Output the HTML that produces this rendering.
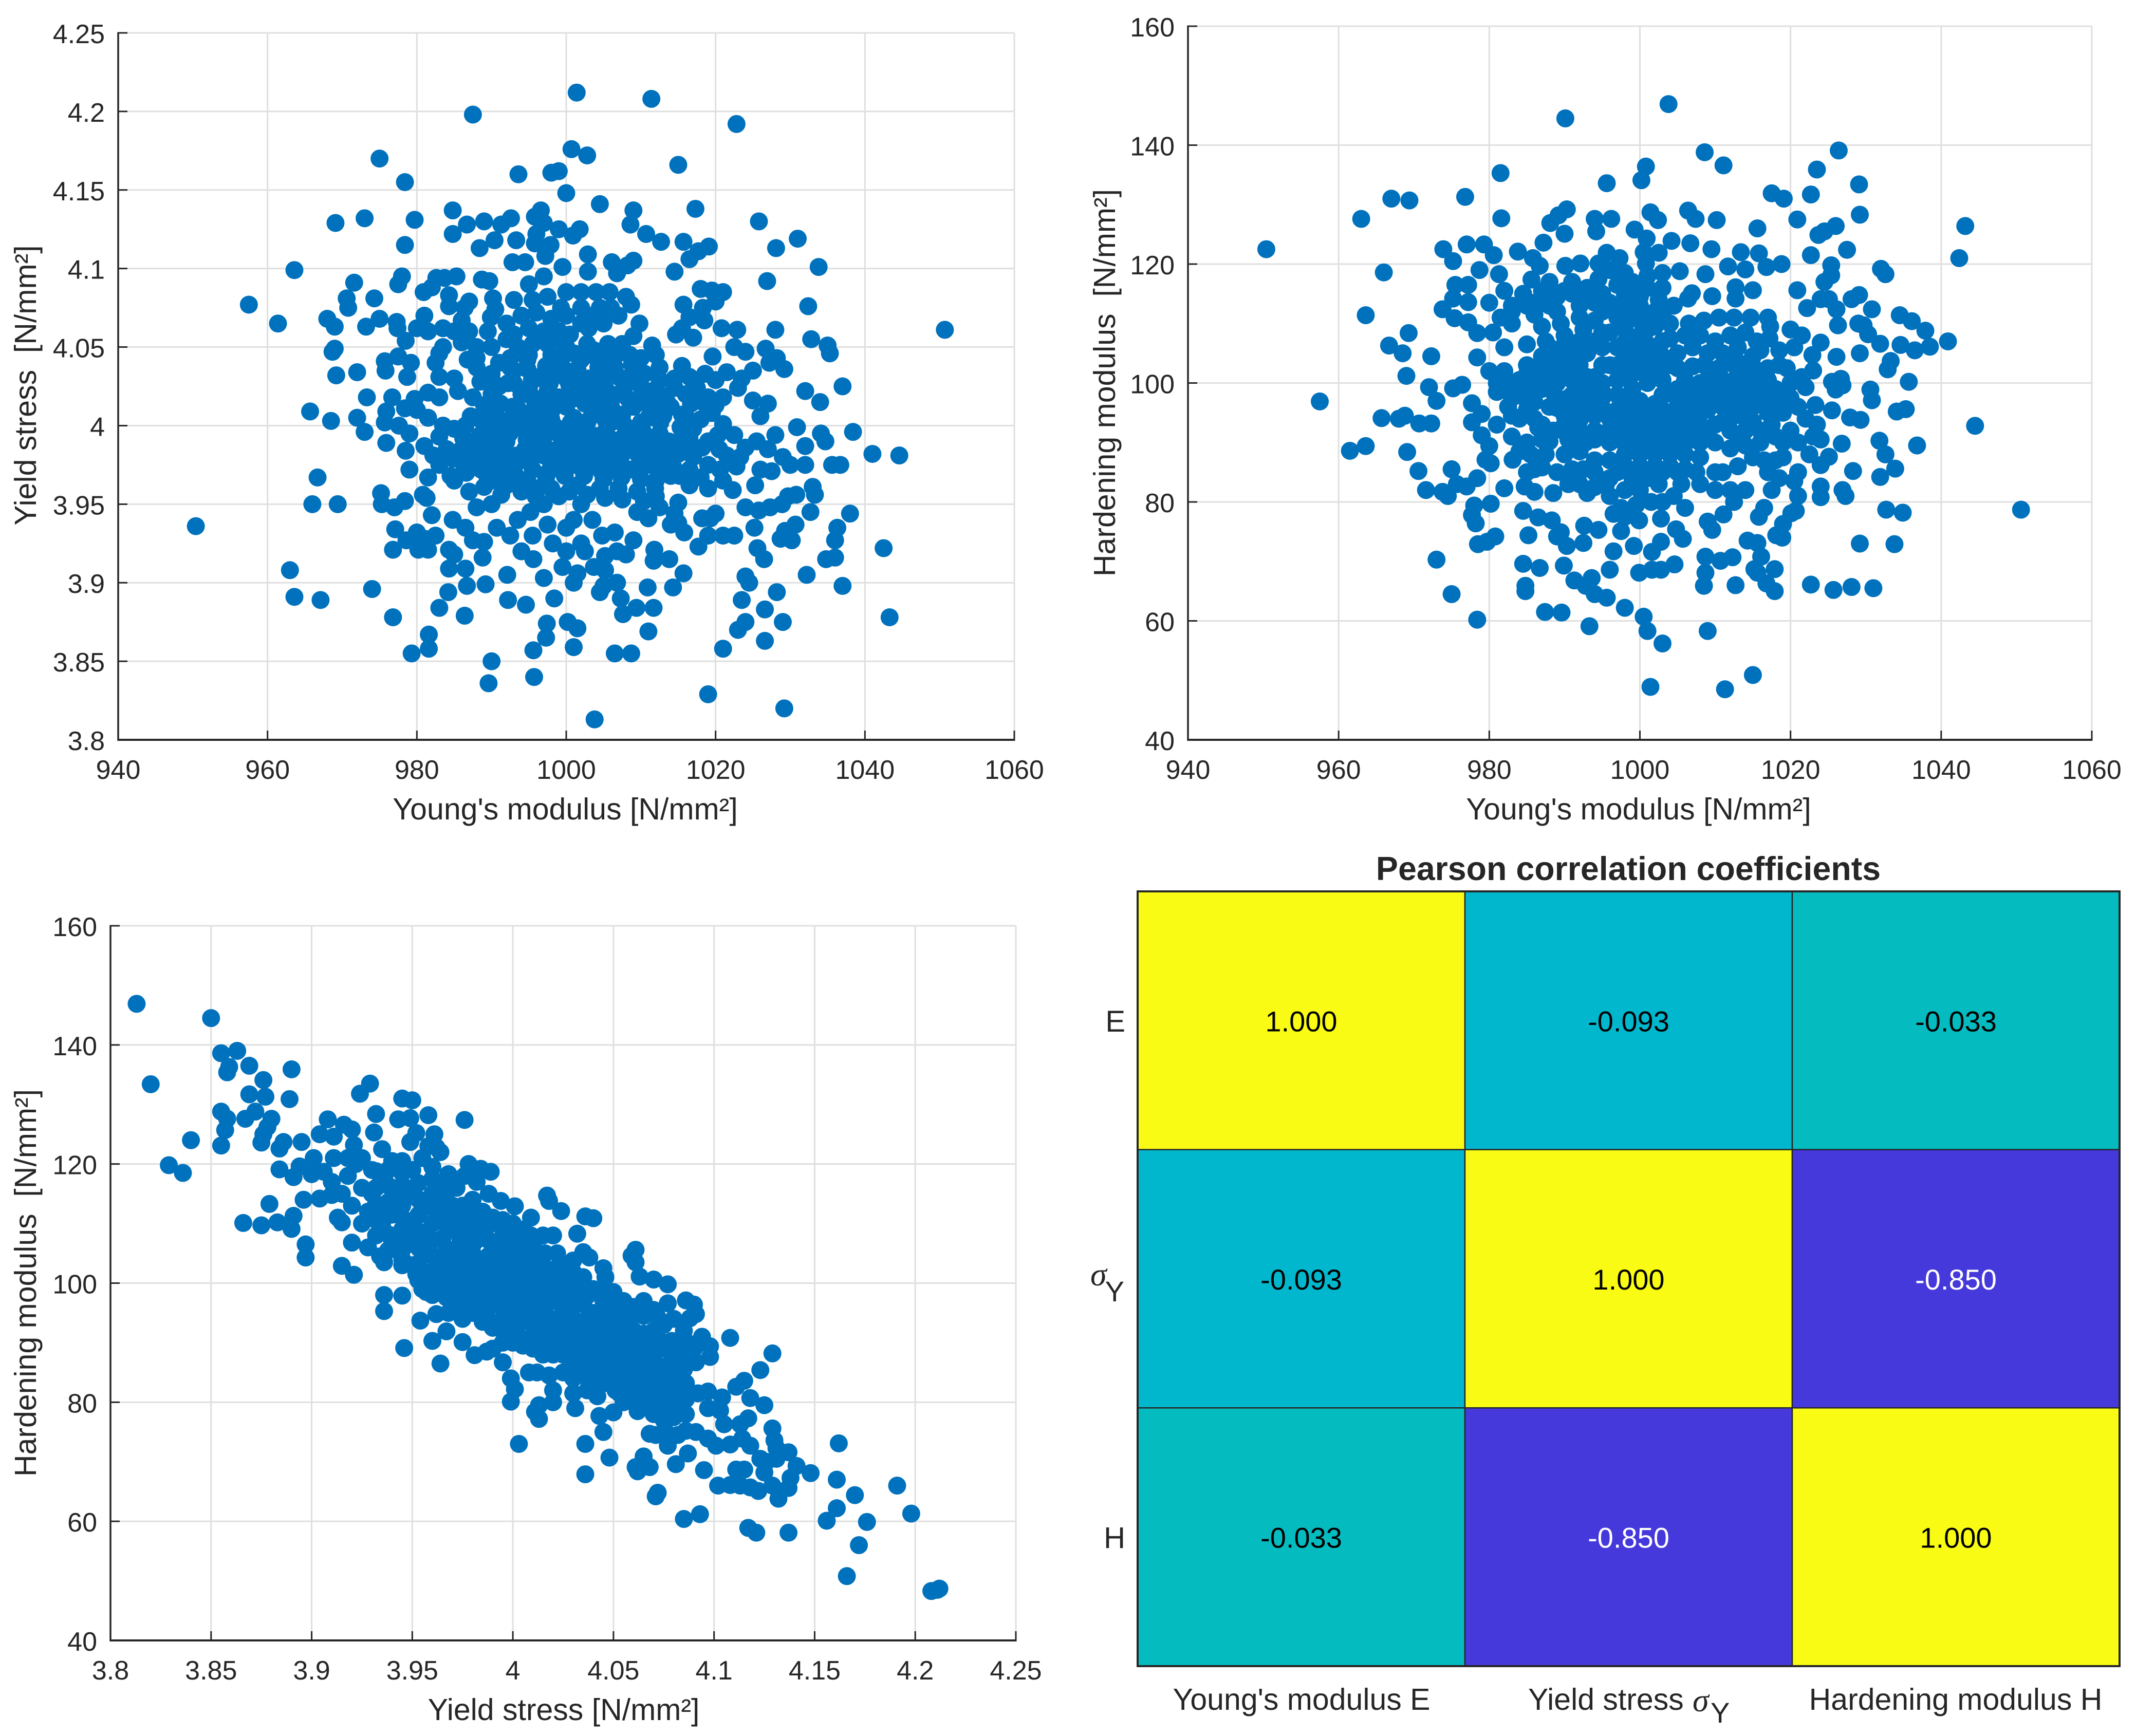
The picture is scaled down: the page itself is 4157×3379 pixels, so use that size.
<!DOCTYPE html>
<html>
<head>
<meta charset="utf-8">
<title>Material parameter scatter plots and correlation matrix</title>
<style>
html,body{margin:0;padding:0;background:#fff;}
svg{display:block;}
text{font-family:"Liberation Sans",Arial,sans-serif;fill:#262626;}
</style>
</head>
<body>
<svg id="figure" xmlns="http://www.w3.org/2000/svg" width="4157" height="3379" viewBox="0 0 4157 3379">
<rect x="0" y="0" width="4157" height="3379" fill="#ffffff"/>
<g id="panel-a"></g>
<g id="panel-b"></g>
<g id="panel-c"></g>
<g id="panel-d"></g>
<text x="1100" y="1595" font-size="59" text-anchor="middle">Young's modulus [N/mm²]</text>
<text transform="translate(70,750) rotate(-90)" font-size="59" text-anchor="middle" xml:space="preserve">Yield stress  [N/mm²]</text>
<text x="3189" y="1595" font-size="59" text-anchor="middle">Young's modulus [N/mm²]</text>
<text transform="translate(2170,745) rotate(-90)" font-size="59" text-anchor="middle" xml:space="preserve">Hardening modulus  [N/mm²]</text>
<text x="1097" y="3348" font-size="59" text-anchor="middle">Yield stress [N/mm²]</text>
<text transform="translate(70,2497) rotate(-90)" font-size="59" text-anchor="middle" xml:space="preserve">Hardening modulus  [N/mm²]</text>
<text x="3169" y="1713" font-size="64.5" font-weight="bold" text-anchor="middle">Pearson correlation coefficients</text>
<text x="2190" y="2008" font-size="58" text-anchor="end">E</text>
<text x="2122" y="2502" font-size="64"><tspan font-family="Liberation Serif" font-style="italic">σ</tspan></text>
<text x="2188" y="2533" font-size="56" text-anchor="end">Y</text>
<text x="2190" y="3013" font-size="58" text-anchor="end">H</text>
<text x="2533" y="3328" font-size="59" text-anchor="middle">Young's modulus E</text>
<text x="2974" y="3328" font-size="59">Yield stress</text>
<text x="3294" y="3331" font-size="64"><tspan font-family="Liberation Serif" font-style="italic">σ</tspan></text>
<text x="3329" y="3353" font-size="56">Y</text>
<text x="3806" y="3328" font-size="59" text-anchor="middle">Hardening modulus H</text>
</svg>
<script>
const youngsTicks=[940,960,980,1000,1020,1040,1060];
const yieldTicks=[3.8,3.85,3.9,3.95,4,4.05,4.1,4.15,4.2,4.25];
const hardeningTicks=[40,60,80,100,120,140,160];

const yieldVsYoungs=[
[950.4,3.936],[957.5,4.077],[961.4,4.065],[963.6,4.099],[963,3.908],[963.6,3.891],[967.1,3.889],[966,3.95],[965.7,4.009],[966.7,3.967],[969.4,3.95],[968.5,4.003],[969.1,4.129],[973,4.132],[978.4,4.155],[975,4.17],[987.5,4.198],[1001.4,4.212],[1011.4,4.208],[1022.8,4.192],[1015,4.166],[1002.8,4.172],[1000.7,4.176],[999,4.162],[998,4.161],[993.6,4.16],[1000,4.148],[1004.5,4.141],[1017.3,4.138],[1009,4.137],[984.8,4.137],[979.7,4.131],[986.7,4.128],[989,4.13],[992.6,4.132],[991.3,4.128],[996.6,4.137],[995.8,4.133],[997,4.129],[999,4.125],[1001.8,4.125],[1000.9,4.121],[996,4.122],[984.8,4.122],[1008.6,4.128],[1010.7,4.122],[1012.7,4.117],[1025.8,4.13],[1031,4.119],[1028.1,4.113],[1033.8,4.101],[1026.9,4.092],[1032.4,4.076],[1015.7,4.117],[1019.1,4.114],[1017.7,4.111],[1016.5,4.106],[1014.5,4.098],[1009,4.105],[1006.1,4.104],[1006.8,4.097],[1008.2,4.102],[1002.9,4.109],[1002.9,4.098],[999.5,4.101],[988.4,4.113],[990.4,4.118],[993.3,4.118],[978.4,4.115],[992.8,4.104],[994.5,4.104],[995.8,4.116],[997.9,4.115],[997.2,4.108],[971.6,4.091],[970.6,4.081],[970.8,4.075],[974.3,4.081],[978,4.095],[977.5,4.09],[985.3,4.095],[982.6,4.094],[983.7,4.094],[980.9,4.085],[982,4.088],[984.3,4.083],[984.3,4.076],[987,4.079],[986.4,4.075],[988.7,4.093],[989.7,4.092],[990.2,4.081],[989.9,4.069],
[968,4.068],[969,4.063],[968.7,4.047],[969,4.049],[969.2,4.032],[972,4.034],[973.2,4.063],[975,4.068],[977.3,4.066],[977.4,4.062],[978.5,4.054],[977.5,4.044],[979.2,4.04],[978.7,4.031],[975.7,4.041],[975.8,4.035],[973.3,4.018],[976.7,4.018],[972,4.005],[973,3.996],[975.7,4.002],[975.9,4.009],[975.9,3.989],[977.6,4],[978.5,3.984],[978.4,4.011],[979.7,4.017],[979,3.972],[981.5,3.967],[975.2,3.957],[975.3,3.95],[977,3.948],[978.4,3.952],[980.8,3.956],[981.3,3.954],[982,3.943],[977.1,3.934],[978.6,3.927],[980,3.932],[980.2,3.921],[981,3.928],[981.5,3.921],[982.5,3.93],[976.8,3.921],[984.3,3.921],[985,3.918],[984.3,3.909],[986.5,3.909],[988.8,3.916],[987.5,3.927],[989,3.926],[986.7,3.898],[984.2,3.894],[983,3.884],[986.4,3.879],[989.2,3.899],[992.1,3.905],[992.2,3.889],[994.6,3.886],[998.4,3.89],[981.6,3.867],[981.6,3.858],[979.3,3.855],[976.8,3.878],[974,3.896],[990,3.85],[989.6,3.836],[995.7,3.84],[995.6,3.857],[997.3,3.865],[997.4,3.874],[1000.2,3.875],[1001.5,3.871],[1001,3.859],[1003.8,3.813],[1006.5,3.855],[1008.7,3.855],[1011,3.869],[1007.6,3.88],[1009.4,3.884],[1011.7,3.884],[1007.3,3.89],[1010.9,3.897],[1014.3,3.897],[1015.7,3.906],[1019,3.829],[1029.2,3.82],[1021,3.858],[1026.6,3.863],[1029,3.875],[1026.6,3.883],[1023,3.87],[1024,3.875],[1023.5,3.889],[1028.2,3.894],[1024,3.904],[1024.5,3.9],[1032.2,3.905],[1026.5,3.915],[1025.6,3.922],[1037,3.898],[1043.3,3.878],[1042.5,3.922],[1036,3.916],[1034.8,3.915],[1036,3.927],[1036.3,3.935],[1038,3.944],[1032.7,3.945],[1030.7,3.937],[1030.2,3.927],[1028.7,3.928],[1029.3,3.933],[1028.9,3.95],[1029.7,3.955],[1030.8,3.956],[1033,3.961],[1033.3,3.956],[1025.2,3.935],[1027.3,3.948],[1025.8,3.946],[1024,3.948],[1020,3.944],[1019.3,3.941],[1018.2,3.941],[1021,3.93],[1022.5,3.93],[1019,3.93],[1017.7,3.923],[1015.8,3.932],[1015,3.938],[1014,3.937],
[1035,4.051],[1035.3,4.046],[1032.8,4.055],[1037,4.025],[1034,4.015],[1032,4.022],[1038.4,3.996],[1041,3.982],[1044.6,3.981],[1030.9,3.999],[1034.1,3.995],[1034.7,3.99],[1032,3.987],[1032,3.975],[1035.6,3.975],[1036.7,3.975],[1029.2,4.036],[1027.2,4.04],[1028.2,4.043],[1026.7,4.049],[1024,4.047],[1023.5,4.03],[1025,4.035],[1025,4.016],[1027,4.014],[1026,4.006],[1028,3.994],[1025.5,3.99],[1027,3.985],[1029,3.98],[1030,3.975],[1027.5,3.971],[1026,3.972],[1025.3,3.962],[1028,4.061],[1022.9,4.061],[1020.8,4.062],[1018.5,4.067],[1022.5,4.05],[1019.6,4.044],[1017,4.056],[1050.7,4.061],[1018,4.087],[1019.5,4.086],[1021,4.085],[1020,4.079],[1018.3,4.075],[1016.5,4.069],[1015.7,4.077],[1014.7,4.058],[1015.5,4.062],[1015.5,4.038],[1016.5,4.031],[1018.6,4.033],[1020,4.029],[1021.5,4.034],[1023,4.024],[1021,4.018],[1016.7,4.014],[1014.5,4.024],[1012.5,4.029],[1012.8,4.019],[1014,4.012],[1019.5,4.008],[1021,4.001],[1022.5,3.994],[1024,3.986],[1020.5,3.985],[1019,3.975],[1022.8,3.974],[1021,3.965],[1022.3,3.959],[1016.5,3.962],[1014,3.968],[1015,3.951],[1014.5,3.944],[1012.5,3.948],[1011,3.941],[1009,3.927],[1011.8,3.921],[1011.7,3.914],[1013.8,3.915],[1006.8,3.92],[1008,3.918],[1005.2,3.917],[1005.2,3.908],[1003.7,3.91],[1006.8,3.9],[1004.5,3.894],[1005,3.898],[1001.5,3.906],[1001,3.9],[1002.5,3.92],[1002,3.925],[1000,3.92],[998.2,3.925],[999.5,3.91],[997,3.903],[995.6,3.915],[994,3.92],[995.5,3.93],[993.5,3.94],[992.5,3.93],[990.7,3.935],[995.2,3.945],[997.5,3.937],[1000,3.935],[1001,3.94],[1003.5,3.94],[1004.8,3.93],[1006.5,3.932],[1009.5,3.945],[1012,3.955],
[985,4.06],[987,4.06],[983,4.046],[981,4.07],[980,4.062],[981.5,4.06],[983.5,4.05],[986,4.053],[988,4.05],[990,4.05],[986.8,4.042],[988,4.037],[983,4.031],[985,4.03],[981.5,4.021],[983,4.018],[980,4.01],[981.5,4.005],[979,3.995],[983,3.993],[985,3.998],[986.5,4],[988.5,4.004],[984,3.985],[986,3.985],[988,3.975],[983,3.975],[985,3.965],[987,3.958],[988,3.948],[990,3.95],[992,3.962],[994,3.958],[984.8,3.94],[986.5,3.935],[990,3.965],[991.5,3.975],[988.5,3.985],[990.5,3.985],[991,4.025],[993,4.035],[995,4.045],[997,4.06],[992,4.065],[994,4.07],[996,4.072],[998,4.068],[1000,4.07],[1002,4.065],[995,4.09],[997,4.095],[1000,4.085],[1002,4.085],[1004,4.085],[1005.8,4.085],[1004.5,4.075],[1006,4.075],[1005,4.065],[1008,4.082],[1008.7,4.077],[1009.8,4.065],[1009,4.057],[1011.5,4.051],[1010,4.043],[1007,4.046],[1005.5,4.043],[1012,4.045],[1002,4.042],[1000,4.05],[998,4.045],[993.5,4.05],[991,4.04],[996,4.03],[998,4.03],[1000,4.035],[1003,4.03],[1005,4.03],[1008,4.03],[1010,4.025],[994,4.02],[996,4.015],[999,4.018],[1002,4.02],[1005,4.017],[1007,4.02],[1009,4.012],[1011,4.005],[993,4.005],[995.5,4],[998,4.004],[1001,4.005],[1003.5,4.008],[1006,4.002],[1008.5,3.998],[992,3.99],[994.5,3.985],[997,3.988],[999.5,3.99],[1002,3.99],[1004.5,3.99],[1007,3.988],[1010,3.988],[1012.5,3.995],[1015,3.99],[1017,3.998],[993,3.975],[995.5,3.972],[998,3.975],[1001,3.975],[1003.5,3.975],[1006,3.975],[1008.5,3.972],[1011,3.975],[1013,3.98],[1017,3.98],[996,3.96],[999,3.955],[1001.5,3.962],[1004.5,3.96],[1007,3.96],[1009.5,3.958],[1012,3.965],[997,3.95],[1002,3.95],
[984.5,3.968],[986.6,3.97],[989.4,3.968],[992.3,3.967],[994.8,3.965],[997.3,3.967],[999.8,3.968],[1002.4,3.968],[1005,3.966],[1007.4,3.967],[1010,3.966],[1012.5,3.97],[1015.2,3.968],[1018,3.967],[1020.6,3.972],
[982.2,3.981],[984.8,3.979],[987,3.98],[989.5,3.977],[992.2,3.982],[994.5,3.978],[997,3.981],[999.6,3.982],[1002.2,3.982],[1004.8,3.982],[1007.3,3.98],[1009.7,3.981],[1012.2,3.986],[1015,3.982],[1018.2,3.986],[1021.5,3.981],[1023.3,3.98],
[981,3.987],[983.5,4],[986.2,3.992],[988.5,3.994],[990.5,3.996],[993,3.998],[995.2,3.993],[997.6,3.996],[1000,3.998],[1002.6,3.998],[1005.2,3.996],[1007.7,3.993],[1010.3,3.996],[1012.6,4.002],[1015.3,3.999],[1018,4.004],[1020.3,3.994],
[990.5,4.008],[992.8,4.012],[995,4.008],[997.4,4.012],[1000,4.012],[1002.5,4.014],[1005,4.009],[1007.5,4.007],[1010.2,4.017],[1012,4.01],[1016,4.006],[1018.3,4.015],[1020,4.013],
[987.5,4.018],[990,4.02],[992.2,4.027],[995,4.024],[997.5,4.022],[1000.4,4.026],[1002.8,4.024],[1005.3,4.023],[1007.8,4.025],[1010.5,4.033],[1012.5,4.037],[1017.5,4.024],[1019,4.018],
[985.5,4.022],[988.5,4.028],[990,4.033],[992.5,4.043],[994.8,4.036],[997.3,4.038],[999.3,4.042],[1001.5,4.036],[1004.3,4.037],[1006.5,4.037],[1008.8,4.039],[1003.7,4.048],[995.5,4.052],[997.5,4.052],[1000.5,4.058],[992,4.055],[989.5,4.06],[983.5,4.062],[986,4.067],[982.5,4.04],[988,4.043],[990.5,4.074],[993,4.08],[997.5,4.082],[995.5,4.08],[999.3,4.075],[1002,4.075],[1003.5,4.07],[1007,4.07],[1003,4.062],[999,4.06],[995,4.062],
[989,3.961],[991.3,3.956],[993.4,3.967],[995.9,3.955],[998,3.96],[1000.4,3.958],[1002.8,3.956],[1005.2,3.954],[1007.5,3.953],[1010.4,3.952],
[988.6,3.972],[990.9,3.97],[993,3.971],[995.2,3.977],[997.7,3.971],[999.9,3.972],[1002.2,3.972],[1004.7,3.971],[1007,3.971],[1009.5,3.971],[1011.9,3.96],[1014.3,3.974],[1016.5,3.972],[1019,3.96],
[986.3,3.975],[989,3.982],[991.2,3.98],[993.4,3.981],[995.8,3.984],[998.2,3.984],[1000.6,3.985],[1003,3.985],[1005.5,3.985],[1008,3.984],[1010.8,3.982],[1013.5,3.988],[1016,3.987],[1019,3.99],
[987.5,3.99],[990,3.99],[992.4,3.995],[994.7,3.991],[997,3.993],[999.1,3.994],[1001.3,3.994],[1003.5,3.994],[1005.8,3.992],[1008.2,3.991],[1010.5,3.992],[1013.7,3.99],[1016.5,3.992],
[987.2,4.006],[989.4,4.002],[991.6,4.003],[994,4.001],[996.2,4.004],[998.6,3.999],[1000.6,4.002],[1002.9,4.003],[1005.2,4.004],[1007.7,4.001],[1010,4.002],[1013,4.006],[1015.5,4.007],
[989,4.013],[991.2,4.014],[993.4,4.012],[995.5,4.018],[998,4.009],[1000.8,4.017],[1003.5,4.016],[1006,4.012],[1008.3,4.017],[1011,4.013],[1013.5,4.015],[1016,4.02],
[990.3,4.027],[993,4.027],[995.4,4.029],[997.8,4.027],[1000,4.03],[1002.2,4.029],[1004.5,4.026],[1007,4.031],[1009,4.033],[1011.5,4.022],[1014.5,4.03],
[992.5,4.037],[994.8,4.042],[997,4.033],[999.2,4.034],[1001.8,4.031],[1004.2,4.042],[1006.3,4.042],[1008.5,4.045],[993,4.058],[996,4.058],[998.5,4.055],[1001,4.046],[1002.8,4.052],[1005.6,4.052],[1007.5,4.052]
];

const hardeningVsYoungs=[
[950.4,122.5],[957.5,96.9],[961.5,88.6],[963.6,89.4],[963,127.6],[963.6,111.4],[966,118.6],[965.7,94.1],[967,131],[969.4,130.7],[966.7,106.3],[968.5,105],[969.3,108.4],[969,101.2],[969.1,88.4],[968,94],[968.8,94.5],[970.7,93.2],[972.3,93.2],[970.6,85.2],[971.6,82],[972.3,104.5],[972,99.3],[973,97],[973,70.3],[973.8,81.7],[974.5,81],[975,85.5],[975,64.5],[973.8,112.4],[973.9,122.5],[975.2,120.5],[975.5,116.5],[975.2,114.2],[975.4,110.9],[975.2,99.1],[976.4,99.7],[976.8,131.3],[977,123.3],[979.3,123.3],[980.6,121.5],[977.2,116.5],[977.2,113.6],[977.2,110.2],[978.4,108.4],[978.4,104.3],[977.7,96.6],[977.7,93.4],[979,94.8],[979,91.2],[978.4,84],[977,82.6],[975.7,83],[978,79.4],[977.7,77.8],[978.2,76.4],[978.5,72.9],[979.7,73.3],[980.8,74.2],[980.2,79.7],[978.4,60.2],[979.5,87.1],[980.2,86.5],[980,89.4],[982,82.3],[983.1,87.1],[984.5,78.5],[984.7,82.6],[986,81.7],[985.2,74.4],[986.5,77.4],[988.3,76.9],[989,74.2],[989.5,74.9],[990.3,72.6],[984.5,69.6],[986.7,68.9],[984.8,65.9],[984.8,65],[987.4,61.5],[989.6,61.4],[989.9,69.3],[991.3,66.8],[992.8,65.9],[993.6,67.2],[994,64.5],[995.6,63.9],[996,68.6],[993.3,59.1],[998,62.2],[1000.5,60.7],[1001,58.3],[1003,56.2],[1001.4,48.9],[1011.3,48.5],[1015,50.9],[1009,58.3],[999.9,68.1],[1001.6,68.6],[1002.8,68.6],[1004.6,69.5],[1001.6,71.6],[1002.8,73.3],[999.2,72.6],[997.5,75.1],[996.5,71.7],[992.5,73.1],[992.6,76],[994.5,75.3],[999.9,76.9],[1002.8,77.2],[1004.8,75.4],[1005.7,73.8],[1009.6,75.3],[1009,76.7],[1011.1,77.9],[1008.7,70.8],[1010.7,70.1],[1012.3,70.7],[1008.7,68.1],[1008.5,65.9],[1012.7,66],[1014.3,73.5],[1015.6,73.1],[1016.1,70.8],[1015.2,68.7],[1015.6,68.1],[1016.8,66.3],[1017.9,68.7],[1017.9,65],[1018.9,74],[1018.1,74.4],[1019,76.3],[1020.1,78.1],[1020.7,78.5],[1022.7,66.1],[1025.7,65.2],[1028.1,65.7],[1031,65.5],[1029.2,73],[1033.8,72.9],[1032.7,78.7],[1034.9,78.2],[1050.6,78.7],[1024,80.8],[1024,82.6],[1026.9,82],[1027.3,81],[1028.3,85.2],[1031.9,84.2],[1033.9,85.6],[1032.6,88],[1031.8,90.3],[1036.8,89.5],[1044.5,92.8],[1035.3,95.6],[1034.1,95.2],[1029.3,93.8],[1027.9,94.2],[1026.8,89.8],[1025.1,87.6],[1024,86.2],[1030.8,97.1],[1030.6,98.9],[1035.7,100.2],[1026.9,99.6],[1026,98.9],[1025.5,100.2],[1026.7,100.7],[1025.5,95.4],[1033.3,103.7],[1032.9,102.3],[1031.9,106.6],[1029.2,105],[1034.6,106.4],[1036.5,105.5],[1038.5,106.1],[1040.9,107],[1037.9,108.8],[1036.1,110.4],[1034.5,111.4],[1030.3,108.2],[1029,110],[1029.7,109.7],[1030.8,112.4],[1029.1,114.8],[1028.1,114.1],[1026.1,112.4],[1026.3,109.7],[1026.1,104.4],[1024,106.8],[1023,102.1],[1022.9,104.7],[1022,99.3],[1023.3,96.3],[1025.4,119.8],[1025.4,118.1],[1024.5,117],[1025.1,114.1],[1024,114.1],[1027.5,122.4],[1026,126.4],[1024.5,125.5],[1023.7,124.9],[1022.7,121.5],[1020.9,115.6],[1022.2,112.6],[1020.9,127.5],[1019.1,131],[1017.5,131.9],[1022.7,131.7],[1023.5,135.9],[1026.4,139.1],[1029.1,133.4],[1029.2,128.3],[1032,119.2],[1032.6,118.3],[1042.4,121],[1043.2,126.4],[1003.8,146.9],[990.1,144.5],[1000.8,136.4],[1000.2,134.1],[1008.6,138.8],[1011.1,136.6],[995.6,133.6],[981.5,135.3],[981.6,127.7],[990.3,129.2],[989.2,128.2],[988.1,126.9],[990,125.1],[994,127.6],[996.2,127.6],[994.2,125.5],[1001.4,128.7],[1002.4,127.4],[1006.4,129],[1007.4,127.6],[1010.2,127.4],[1015.6,126],[987.2,123.6],[983.8,122.1],[985.8,121],[986.7,119.7],[981.3,118.3],[978.7,119],[999.3,125.8],[1000.9,124.3],[1004.2,123.9],[1006.7,123.5],[1009.5,122.5],[1013.4,122],[1015.8,121.8],[1018.8,120],[1016.8,119.5],[1014,119.1],[1011.7,119.6],[1015,115.6],[1012.7,116.1],[1012.7,114.2],[1009.6,114.6],[1006.4,114.2],[1006.9,115.1],[1008.7,118.3],[1005.3,118.8],[1002.5,121.9],[1000.8,120.1],[997.3,121],[995.6,121.9],[994.5,120.1],[992.1,120.1],[990.1,119.7],[985.6,117.4],
[980,113.5],[982,115.5],[983,113],[984.5,115],[987,115.5],[989,114.5],[991,117],[993,116],[995,115],[997,116.5],[999,117],[1001,116],[1003,116],[1002,112],[1000,113],[998,113],[995,112],[992,113],[989,112],[986,111.5],[983,110],[980.5,108.5],[982,106],[985,106.5],[987.5,107],[990,108],[992.5,109],[995,108.5],[998,109],[1001,109],[1004,110],[1006.5,110],[1008.5,110.5],[1010.5,111],[1012.5,111],[1014.7,111],[1017,111],[1017.3,109.5],[1015.5,107],[1017.2,107.5],[1015,104.5],[1017,102.5],[1010,107],[1007,106],[1008.5,103],[1010.5,102.5],[1012.5,104],[1018.5,105.5],[1020.5,106],[1020,109],[1021.5,108],[1019.5,102.5],[1021.5,101],[1018,99],[1020,97.5],[1022,94],[1020,92],[1021,90],[1022.5,88],[1021,85],[1018.5,84],[1020.5,83.5],[1021,81],[1017,85],[1017.5,82],[1016.5,79],[1015.8,77.5],[1014,82],[1012,82],[1012.5,80],[1010,82],[1011,85],[1013,86],[1015,87.5],[1016.5,87],[1018,91],[1016,92],[1014,92],[1012,92],[1010,90],[1008,90],[1010,85],[1007.5,85],[1005.5,83],[1006,79],[1004.5,81],[1003,80],[1001.5,80],[1001,84],[1003,85],[1005,85],[998,82],[996,81],[997.5,79],[995.5,83],[993,81.5],[992,83],[990.5,83],[988.5,81.5],[990,88],[992,88.5],[994,87],[992.5,85.5],[987.5,88],[985.5,88],[986,85.5],[985,85],[983,91],[985,90],[987,90.5],[981,93],[982.5,96],[984,94],[986,94],[988,96],[990,93],[992,92],[994,92],[996,90],[998,88],[1000,88],[1002,88],[1004,88],[1006,88],[997,85],[999,84],
[980,102],[982,102],[984,100.5],[986,100.5],[988,102.5],[990,102],[992,103],[994,101],[996,103],[998,104],[1000,105],[1002,105],[1004,103],[1006,100.5],[1008,100],[1010,99],[1012,100],[1014,100],[1016,99],[981,98.5],[983,97.5],[985,97],[987,99],[989,97.5],[991,98],[993,97],[995,97.5],[997,98],[999,99],[1001,100],[1003,98],[1005,96],[1007,96],[1009,95.5],[1011,96],[1013,96],[1015,96],[1017,95],[1019,95],[990,94.5],[992,95],[994,94.5],[996,94],[998,94],[1000,94],[1002,94],[1004,93],[1006,92],[1008,93],[998,91],[1000,91],[1002,91],[1004,91],[995,106],[993,106],[991,105.5],[1000,108],[1003,107],[1002,102],[1000,102],[998,101],[997,95.5],[1000,97],[1012,94],[1014,94],[1016,90],
[984,88.5],[986.5,92.5],[988.5,92],[990.5,90.5],[992.8,90],[995,91.5],[997,92.5],[999,92.5],[1001,92.5],[1003,92.5],[1005,90],[1007,90.5],[1009,91],[1011,93.5],[1013,90],[1015,93.5],[1017.5,93],[1019,90],
[983,94.5],[985,95.5],[987,93],[989,95.8],[991,96],[993,95.8],[995,95.8],[997,93.5],[999,96],[1001,95.5],[1003,95.5],[1005,94],[1007,94],[1009,97.5],[1011,98],[1013,97.8],[1015,98],[1017,97],[1019,98],[1021,96],
[981,100],[983,99.5],[985,99],[987,100.8],[989,100],[991,100.5],[993,99.5],[995,100],[997,100.5],[999,101.5],[1001,102.5],[1003,100.5],[1005,99],[1007,98.5],[1009,100.5],[1011,100.5],[1013,101.5],[1015,101.5],[1017,100.5],
[985,103],[987,104.5],[989,104.5],[991,103.5],[993,105],[995,103],[997,106],[999,106.5],[1001,106.5],[1003,104.5],[1005,105],[1009,105],[1011,105],[1013,106],[1016,105.5],[1018.5,103],
[987,109.5],[989.5,110],[992,111],[994,110.5],[997,111],[999,111],[1001,111],[1003,111.5],[1000,114.5],[1002.5,114],[998,115],[996,113.5],[994,113.5],[991,115],[988,113],[985,113],[983,112],[981.5,111],
[994,85],[996,87],[998,86],[1000,86],[1002,86],[1004,86],[1006,85.5],[1008,87.5],[1012,89],[1014,89.5],[1019,87.5],[1023,91],[1023.5,93],[1024,90.5],[996,84],[994,82.5],[1000,82],[1002.5,83],[1008,83],[999.5,79.5],[998,77.5],[996.5,78],[991,85.5],[989,85],[987,85.8],[1018,87],
[986,96.8],[988,90.2],[990,91.8],[992,93.8],[994,90.5],[996,92],[998,89.8],[1000,89.6],[1002,89.5],[1004,89.8],[1006,94],[1008,95],[1010,93],[1012,96.8],[1014,95.5],
[985,101.5],[987,102.5],[989,102],[991,101.8],[993,101],[995,98.5],[997,103],[999,103],[1001,104],[1003,102.8],[1005,102.5],[1007,102.8],[1009,102.5],[1011,103],[1013,103.5],[1015,102.8],
[988,106],[990,106.5],[992,107],[994,107],[996,108.5],[998,106.8],[1000,110.5],[1002,109.5],[1004,107.5],[1006,108],[1008,108],[1012,108],[1014,108.5],
[988.5,98.5],[990.5,97.5],[992.5,98.5],[994,97.8],[998,96.8],[1002,96.5],[1004,98.2],[1006,98.2],[1008,97.5],[1010,97.6],[1012,98.2],[1014,98],[1016,97.8],[1018,96.5],[1020,100],
[990,115.5],[992,115],[994.5,117.5],[998,118.5],[1001,118],[1003,118.5],[1004.5,113],[986,113.5],[988,117],[996,119],[1000.5,122]
];

const hardeningVsYield=[
[3.813,146.9],[3.85,144.5],[3.82,133.4],[3.829,119.8],[3.836,118.5],[3.84,124],[3.855,138.6],[3.863,139],[3.859,136.3],[3.858,135.4],[3.869,136.5],[3.876,134.1],[3.869,131.7],[3.877,131.3],[3.89,135.9],[3.889,130.9],[3.855,128.8],[3.858,127.6],[3.857,125.7],[3.855,123.1],[3.867,127.6],[3.872,128.8],[3.88,127.6],[3.878,126.2],[3.876,125],[3.875,123.6],[3.886,123.7],[3.884,122.6],[3.895,123.7],[3.884,119.1],[3.891,117.8],[3.894,119.6],[3.901,121],[3.9,118.3],[3.904,125],[3.908,127.5],[3.911,124.6],[3.916,126.6],[3.92,125.8],[3.921,123.2],[3.911,121],[3.918,121],[3.906,118.7],[3.896,114],[3.904,114.2],[3.91,114.8],[3.879,113.3],[3.866,110.1],[3.875,109.7],[3.883,110.2],[3.891,111.3],[3.89,109.1],[3.897,106.5],[3.897,104.3],[3.913,111],[3.915,110.2],[3.92,106.8],[3.915,102.9],[3.921,101.4],[3.924,131.8],[3.929,133.5],[3.932,128.4],[3.931,125.3],[3.943,127.5],[3.945,131],[3.95,130.7],[3.958,128.2],[3.949,127.7],[3.961,125],[3.976,127.4],[3.952,125.2],[3.949,123.7],[3.962,122.8],[3.964,122],[3.936,98],[3.945,97.9],[3.936,95.3],[3.946,89.1],[3.954,93.7],[3.962,94.8],[3.96,90.3],[3.964,86.5],[3.967,91.9],[3.975,90.1],[3.981,87.9],[3.987,88.5],[3.995,86.7],[3.999,84],[4.001,82.2],[3.999,80.1],[4.003,73],[4.011,78.4],[4.013,77.2],[4.013,79.5],[4.02,80],[4.031,79],[4.036,73],[4.036,67.9],[4.045,75],[4.048,70.7],[4.043,77.7],[4.05,78.3],[4.062,68.4],[4.061,69.1],[4.065,70.9],[4.068,69.1],[4.071,64.2],[4.072,64.8],[4.068,74.7],[4.071,74.5],[4.085,60.4],[4.093,61.2],[4.081,69.6],[4.087,71.4],[4.077,72.7],[4.095,68.6],[4.102,66],[4.108,66.1],[4.113,66],[4.117,58.9],[4.121,58.1],[4.137,58.1],[4.111,68.7],[4.115,68.7],[4.118,65.7],[4.122,65.1],[4.132,63.8],[4.129,66],[4.137,65.6],[4.138,67.3],[4.148,68.1],[4.141,69.3],[4.137,71.6],[4.131,70.5],[4.126,70],[4.123,70.5],[4.125,68.2],[4.118,72.7],[4.114,73.9],[4.108,72.9],[4.101,72.7],[4.097,73.9],[4.091,75],[4.086,75.2],[4.129,75.6],[4.13,73.6],[4.131,72.3],[4.117,77.3],[4.113,76.3],[4.105,76.3],[4.103,78.6],[4.097,79],[4.125,79.5],[4.118,80.7],[4.104,80.8],[4.115,83.6],[4.111,82.6],[4.123,85.4],[4.129,88.2],[4.108,90.8],[4.098,89.4],[4.098,87.6],[4.094,91],[4.091,86.7],[4.091,94.8],[4.088,94.1],[4.09,96.4],[4.086,97.1],[4.077,99.8],[4.077,96.6],[4.07,100.6],[4.063,101.1],[4.061,105.6],[4.059,104.6],[4.061,103.5],[4.045,102.5],[4.046,101],[4.035,105.2],[4.038,104.3],[4.032,108.3],[4.036,111.2],[4.04,110.9],[4.017,114.7],[4.018,113.8],[4.024,112.1],[4.009,111],[4.001,112.9],[3.994,113.8],[3.989,118.7],[3.984,119.2],[3.978,120],[3.968,118.3],[4.161,67],[4.17,64.4],[4.161,62.2],[4.156,60.1],[4.176,59.9],[4.172,56],[4.166,50.8],[4.162,73.1],[4.191,66],[4.198,61.3],[4.208,48.3],[4.211,48.5],[4.212,48.7],
[3.925,121],[3.93,119],[3.935,122.5],[3.94,120.5],[3.945,118.5],[3.95,119],[3.955,121],[3.958,123],[3.965,117],[3.972,116],[3.976,118],[3.982,117],[3.988,115],[3.925,116],[3.93,115],[3.935,117],[3.94,114],[3.945,113],[3.95,115],[3.955,113],[3.96,115],[3.965,112],[3.97,113],[3.975,113],[3.98,114],[3.985,112],[3.99,111],[3.995,109],[4,110],[4.005,109],[3.925,110],[3.93,111],[3.928,106],[3.934,104.5],[3.936,103.5],[3.94,107],[3.945,109],[3.95,110],[3.955,108],[3.96,110],[3.965,107.5],[3.97,109],[3.975,108],[3.98,110],[3.985,108],[3.99,106.5],[3.995,105],[4,106],[4.005,106],[4.01,106.5],[4.015,108],[4.02,108],[4.022,105],[4.027,103],[3.945,104],[3.95,103],[3.955,105],[3.96,102],[3.965,103.5],[3.97,104],[3.975,103],[3.98,105],[3.985,103],[3.99,102],[3.995,100.5],[4,102],[4.005,102],[4.01,102],[4.015,103],[4.02,101],[4.025,100],[4.03,100],[4.035,101],[4.04,99],[3.955,99],[3.96,98],[3.965,99.5],[3.97,100],[3.975,98],[3.98,100],[3.985,98],[3.99,97.5],[3.995,96],[4,98],[4.005,98],[4.01,97.5],[4.015,98],[4.02,97],[4.025,96],[4.03,96],[4.035,96.5],[4.04,95],[4.045,97],[4.05,98.5],[4.055,97],[4.06,96],[4.065,97],[4.07,95.5],[3.968,95],[3.975,94],[3.98,95],[3.985,93.5],[3.99,92.5],[3.995,92],[4,94],[4.005,93.5],[4.01,93],[4.015,93],[4.02,92.5],[4.025,92],[4.03,92.5],[4.035,91.5],[4.04,92],[4.045,92.5],[4.05,94],[4.055,92],[4.06,92],[4.065,91.5],[4.07,92],[4.075,93],[4.08,94],[4.085,92],[3.99,89],[3.995,90],[4,90],[4.005,89.5],[4.01,89],[4.015,88],[4.02,88],[4.025,88],[4.03,88],[4.035,88],[4.04,88],[4.045,88],[4.05,89],[4.055,88.5],[4.06,88],[4.065,88],[4.07,88],[4.075,89],[4.08,89],[4.085,88.5],[4.09,89],[4.008,85],[4.012,85],[4.018,84.5],[4.025,85],[4.03,84],[4.035,84.5],[4.04,84],[4.045,84],[4.05,85],[4.055,84],[4.06,84.5],[4.065,84],[4.07,85],[4.075,85],[4.08,85],[4.085,85.5],[4.02,82],[4.03,81.5],[4.037,82],[4.042,81],[4.053,81.5],[4.06,81],[4.065,80.5],[4.07,81],[4.075,81.5],[4.08,81],[4.085,81.5],[4.092,81.5],[4.097,81.8],[4.062,78.5],[4.07,78],[4.075,77],[4.08,77.5],[4.076,75],[4.082,74.5],[4.055,80],[3.91,117],[3.915,115],[3.92,113],[3.918,118],[3.922,120],[3.928,112],[3.935,110],[3.94,111.5],[3.948,107],[3.952,101.5],[3.957,98.5],
[3.953,100.5],[3.953,103.3],[3.953,106],[3.953,108.7],[3.953,111.4],[3.953,114.1],[3.953,116.8],
[3.96,99.9],[3.96,101.8],[3.96,104.6],[3.96,107.2],[3.96,112.6],[3.96,117.5],[3.96,119.5],
[3.967,97.6],[3.967,100.3],[3.967,101.6],[3.967,105.8],[3.967,109.8],[3.967,111],[3.967,113.8],[3.967,115.5],
[3.974,96.4],[3.974,99.2],[3.974,101.8],[3.974,105.5],[3.974,107.3],[3.974,110.5],[3.974,112],
[3.981,96.8],[3.981,98.2],[3.981,101.5],[3.981,103.2],[3.981,106.9],[3.981,108.6],[3.981,111.8],
[3.988,93.7],[3.988,95.9],[3.988,99.3],[3.988,100.8],[3.988,104.6],[3.988,107.2],[3.988,109.8],
[3.995,94],[3.995,98],[3.995,99],[3.995,102.4],[3.995,103.8],[3.995,106.8],[3.995,110.6],
[4.002,91.5],[4.002,95.7],[4.002,96.3],[4.002,100],[4.002,103.8],[4.002,104.5],[4.002,107.8],
[4.009,90.8],[4.009,95],[4.009,95.8],[4.009,99.8],[4.009,100.5],[4.009,104.2],[4.009,108],
[4.016,90],[4.016,91.2],[4.016,95],[4.016,96],[4.016,100],[4.016,101],[4.016,105],
[4.023,89.8],[4.023,90.5],[4.023,94.2],[4.023,98.5],[4.023,100.5],[4.023,103],
[4.03,86],[4.03,90.2],[4.03,90.9],[4.03,94],[4.03,98],[4.03,101.8],[4.03,103.8],
[4.037,86],[4.037,90],[4.037,90.6],[4.037,94],[4.037,97.9],[4.037,99],
[4.044,83],[4.044,85.8],[4.044,90],[4.044,90.5],[4.044,94.5],[4.044,98.8],
[4.051,82],[4.051,83],[4.051,87],[4.051,91],[4.051,92.7],[4.051,96],
[4.058,80.5],[4.058,82.7],[4.058,86],[4.058,90],[4.058,94],[4.058,95],
[4.065,79.5],[4.065,82.4],[4.065,85.9],[4.065,89.8],[4.065,90.5],[4.065,94.5],
[4.072,79.4],[4.072,83],[4.072,86.2],[4.072,90],[4.072,90.8],[4.072,94.2],
[4.079,79.5],[4.079,83],[4.079,87],[4.079,90.3],[4.086,78],[4.086,80.5],[4.086,83.2],[4.086,86.7],[4.086,90.2],
[3.945,103],[3.945,105.6],[3.945,111],[3.945,115.8],[3.945,116.5],[3.945,120.5],
[3.938,105.5],[3.938,108.2],[3.938,112],[3.938,113.6],[3.938,116.4],[3.938,119],
[3.932,108],[3.932,110.6],[3.932,113.3],[3.932,116],[3.932,118.8]
];

const heatColumns=["Young's modulus E","Yield stress","Hardening modulus H"];
const heatRow1=[1.000,-0.093,-0.033];
const heatRow2=[-0.093,1.000,-0.850];
const heatRow3=[-0.033,-0.850,1.000];
const heatRows=[heatRow1,heatRow2,heatRow3];
const heatStopValues=[-0.85,-0.093,-0.033,1];
const heatStopColors=[[70,57,220],[1,183,205],[4,187,192],[249,251,21]];

const SVG_NS='http://www.w3.org/2000/svg';
const INK='#262626';
const GRID='#dfdfdf';
const MARKER='#0072BD';
const MARKER_RADIUS=17.5;

function makeLine(parent,x1,y1,x2,y2,stroke,width,name){
  const el=document.createElementNS(SVG_NS,'line');
  el.setAttribute('x1',x1);
  el.setAttribute('y1',y1);
  el.setAttribute('x2',x2);
  el.setAttribute('y2',y2);
  el.setAttribute('stroke',stroke);
  el.setAttribute('stroke-width',width);
  
  
  parent.appendChild(el);
  return el;
}
function makeText(parent,x,y,content,size,anchor,name,fill){
  const el=document.createElementNS(SVG_NS,'text');
  el.setAttribute('x',x);
  el.setAttribute('y',y);
  el.setAttribute('font-size',size);
  el.setAttribute('text-anchor',anchor);
  if(fill){el.style.fill=fill;}
  el.textContent=content;
  
  
  parent.appendChild(el);
  return el;
}
function linearScale(ticks,start,end){
  const lo=ticks[0];
  const hi=ticks[ticks.length-1];
  return function(v){return start+(v-lo)/(hi-lo)*(end-start);};
}
function drawScatter(groupId,box,xTicks,yTicks,points){
  const g=document.getElementById(groupId);
  const sx=linearScale(xTicks,box.left,box.right);
  const sy=linearScale(yTicks,box.bottom,box.top);
  xTicks.forEach(function(t){makeLine(g,sx(t),box.top,sx(t),box.bottom,GRID,3,'x-gridline');});
  yTicks.forEach(function(t){makeLine(g,box.left,sy(t),box.right,sy(t),GRID,3,'y-gridline');});
  points.forEach(function(p){
    const c=document.createElementNS(SVG_NS,'circle');
    c.setAttribute('cx',sx(p[0]));
    c.setAttribute('cy',sy(p[1]));
    c.setAttribute('r',MARKER_RADIUS);
    c.setAttribute('fill',MARKER);
    
    
    g.appendChild(c);
  });
  makeLine(g,box.left,box.top-1.5,box.left,box.bottom+2,INK,3.5,'y-axis-line');
  makeLine(g,box.left-1.5,box.bottom,box.right+1.5,box.bottom,INK,4,'x-axis-line');
  xTicks.forEach(function(t){
    makeLine(g,sx(t),box.bottom,sx(t),box.bottom-18,INK,3,'x-tick');
    makeText(g,sx(t),box.bottom+76,String(t),52,'middle','x-tick-label');
  });
  yTicks.forEach(function(t){
    makeLine(g,box.left,sy(t),box.left+18,sy(t),INK,3,'y-tick');
    makeText(g,box.left-26,sy(t)+20,String(t),52,'end','y-tick-label');
  });
}
function heatColor(v){
  for(let i=0;i<heatStopValues.length-1;i++){
    if(v<=heatStopValues[i+1]){
      const f=Math.max(0,(v-heatStopValues[i])/(heatStopValues[i+1]-heatStopValues[i]));
      const a=heatStopColors[i];
      const b=heatStopColors[i+1];
      return 'rgb('+Math.round(a[0]+(b[0]-a[0])*f)+','+Math.round(a[1]+(b[1]-a[1])*f)+','+Math.round(a[2]+(b[2]-a[2])*f)+')';
    }
  }
  return 'rgb(249,251,21)';
}
function drawHeatmap(groupId,box,rows){
  const g=document.getElementById(groupId);
  const sx=linearScale([0,rows[0].length],box.left,box.right);
  const sy=linearScale([0,rows.length],box.top,box.bottom);
  rows.forEach(function(row,r){
    row.forEach(function(v,c){
      const cell=document.createElementNS(SVG_NS,'rect');
      cell.setAttribute('x',sx(c));
      cell.setAttribute('y',sy(r));
      cell.setAttribute('width',sx(c+1)-sx(c));
      cell.setAttribute('height',sy(r+1)-sy(r));
      cell.setAttribute('fill',heatColor(v));
      cell.setAttribute('stroke',INK);
      cell.setAttribute('stroke-width',2.5);
      
      
      g.appendChild(cell);
    });
  });
  rows.forEach(function(row,r){
    row.forEach(function(v,c){
      makeText(g,(sx(c)+sx(c+1))/2,(sy(r)+sy(r+1))/2+21,v.toFixed(3),56,'middle','heatmap-value',v<-0.5?'#ffffff':'#000000');
    });
  });
  const frame=document.createElementNS(SVG_NS,'rect');
  frame.setAttribute('x',box.left);
  frame.setAttribute('y',box.top);
  frame.setAttribute('width',box.right-box.left);
  frame.setAttribute('height',box.bottom-box.top);
  frame.setAttribute('fill','none');
  frame.setAttribute('stroke',INK);
  frame.setAttribute('stroke-width',4);
  
  
  g.appendChild(frame);
}
drawScatter('panel-a',{left:230,right:1974,top:64,bottom:1440},youngsTicks,yieldTicks,yieldVsYoungs);
drawScatter('panel-b',{left:2312,right:4071,top:51,bottom:1440},youngsTicks,hardeningTicks,hardeningVsYoungs);
drawScatter('panel-c',{left:215,right:1977,top:1802,bottom:3193},yieldTicks,hardeningTicks,hardeningVsYield);
drawHeatmap('panel-d',{left:2214,right:4125,top:1735,bottom:3243},heatRows);
</script>
</body>
</html>
